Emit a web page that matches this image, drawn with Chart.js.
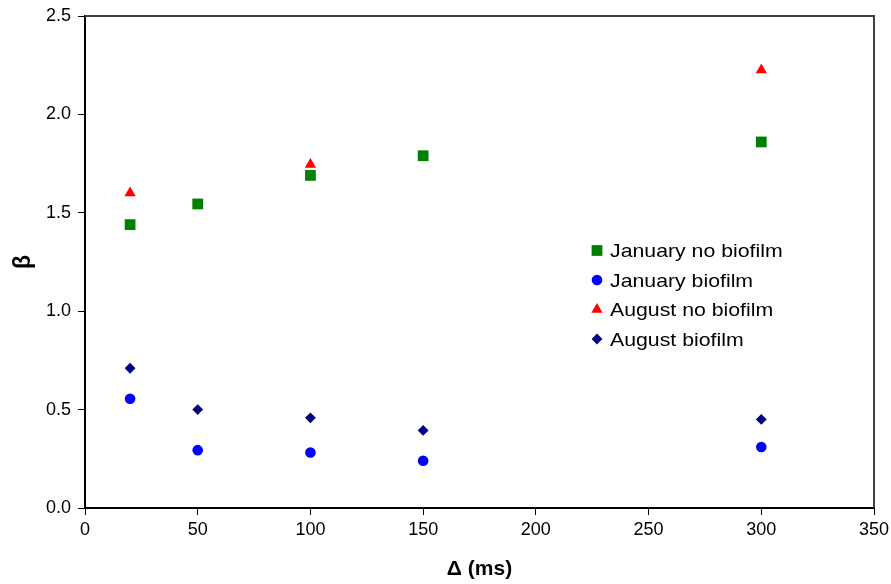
<!DOCTYPE html>
<html>
<head>
<meta charset="utf-8">
<script src="https://cdn.jsdelivr.net/npm/chart.js@4/dist/chart.umd.min.js"></script>
<style>
  html, body { margin: 0; padding: 0; background: #fff; }
  #wrap { width: 891px; height: 584px; position: relative; }
</style>
</head>
<body>
<div id="wrap"><canvas id="c" width="891" height="584"></canvas></div>
<script>
// ---- data ----
const seriesNames = ["January no biofilm", "January biofilm", "August no biofilm", "August biofilm"];
const janNoX = [20, 50, 100, 150, 300];
const janNoY = [1.44, 1.545, 1.69, 1.79, 1.86];
const janBioX = [20, 50, 100, 150, 300];
const janBioY = [0.555, 0.294, 0.282, 0.24, 0.31];
const augNoX = [20, 100, 300];
const augNoY = [1.6, 1.745, 2.226];
const augBioX = [20, 50, 100, 150, 300];
const augBioY = [0.71, 0.50, 0.458, 0.394, 0.45];
const xTicks = [0, 50, 100, 150, 200, 250, 300, 350];
const yTicks = [0.0, 0.5, 1.0, 1.5, 2.0, 2.5];
const xTitle = "\u0394 (ms)";
const yTitle = "\u03B2";

function pts(xs, ys) { return xs.map((x, i) => ({ x: x, y: ys[i] })); }

const styles = [
  { color: "#008000", shape: "rect", r: 7.6 },
  { color: "#0000FF", shape: "circle", r: 5.3 },
  { color: "#FF0000", shape: "triangle", r: 6.5 },
  { color: "#000080", shape: "rectRot", r: 5.4 }
];
const dataSets = [pts(janNoX, janNoY), pts(janBioX, janBioY), pts(augNoX, augNoY), pts(augBioX, augBioY)];

const FONT = "'Liberation Sans', Arial, sans-serif";

function drawShape(ctx, shape, x, y, r) {
  ctx.beginPath();
  if (shape === "rect") {
    const s = Math.SQRT1_2 * r;
    ctx.rect(x - s, y - s, 2 * s, 2 * s);
  } else if (shape === "circle") {
    ctx.arc(x, y, r, 0, Math.PI * 2);
  } else if (shape === "triangle") {
    ctx.moveTo(x, y - r);
    ctx.lineTo(x + Math.sin(2 * Math.PI / 3) * r, y + r / 2);
    ctx.lineTo(x - Math.sin(2 * Math.PI / 3) * r, y + r / 2);
    ctx.closePath();
  } else if (shape === "rectRot") {
    ctx.moveTo(x - r, y);
    ctx.lineTo(x, y - r);
    ctx.lineTo(x + r, y);
    ctx.lineTo(x, y + r);
    ctx.closePath();
  }
  ctx.fill();
}

const framePlugin = {
  id: "frame",
  beforeDatasetsDraw(chart) {
    const { ctx, chartArea: a } = chart;
    ctx.save();
    ctx.strokeStyle = "#404040";
    ctx.lineWidth = 2;
    ctx.beginPath();
    ctx.moveTo(a.left, a.top);
    ctx.lineTo(a.right, a.top);
    ctx.lineTo(a.right, a.bottom);
    ctx.stroke();
    ctx.restore();
  }
};

const legendPlugin = {
  id: "customLegend",
  afterDraw(chart) {
    const ctx = chart.ctx;
    const ys = [250.5, 280, 309.5, 339];
    const fs = 18.5;
    ctx.save();
    seriesNames.forEach((name, i) => {
      const st = styles[i];
      ctx.fillStyle = st.color;
      drawShape(ctx, st.shape, 597, ys[i], st.r);
      ctx.fillStyle = "#000";
      ctx.font = fs + "px " + FONT;
      ctx.textBaseline = "alphabetic";
      ctx.textAlign = "left";
      ctx.save();
      ctx.translate(610, ys[i] + 0.358 * fs);
      ctx.scale(1.15, 1);
      ctx.fillText(name, 0, 0);
      ctx.restore();
    });
    ctx.restore();
  }
};

new Chart(document.getElementById("c"), {
  type: "scatter",
  data: {
    datasets: dataSets.map((d, i) => ({
      label: seriesNames[i],
      data: d,
      showLine: false,
      pointStyle: styles[i].shape,
      pointRadius: styles[i].r,
      pointHoverRadius: styles[i].r,
      pointBackgroundColor: styles[i].color,
      pointBorderColor: styles[i].color,
      pointBorderWidth: 0,
      order: i === 2 ? 0 : 1
    }))
  },
  options: {
    responsive: false,
    animation: false,
    devicePixelRatio: 1,
    layout: { padding: { left: 0, top: 16, right: 17, bottom: 0 } },
    plugins: { legend: { display: false }, tooltip: { enabled: false } },
    scales: {
      x: {
        type: "linear",
        min: xTicks[0], max: xTicks[xTicks.length - 1],
        afterBuildTicks(s) { s.ticks = xTicks.map(v => ({ value: v })); },
        afterFit(s) { s.height = 76; s.paddingRight = 0; s.paddingLeft = 0; },
        ticks: { color: "#000", font: { family: FONT, size: 18 }, padding: 4, maxRotation: 0, callback: v => String(v) },
        grid: { display: true, drawOnChartArea: false, drawTicks: true, tickLength: 7, color: "#000", lineWidth: 1 },
        border: { display: true, color: "#000", width: 2 },
        title: { display: true, text: xTitle, color: "#000", font: { family: FONT, size: 21, weight: "bold" }, padding: { top: 0, bottom: 2 } }
      },
      y: {
        type: "linear",
        min: yTicks[0], max: yTicks[yTicks.length - 1],
        afterBuildTicks(s) { s.ticks = yTicks.map(v => ({ value: v })); },
        afterFit(s) { s.width = 85; s.paddingTop = 0; s.paddingBottom = 0; },
        ticks: { color: "#000", font: { family: FONT, size: 18 }, padding: 7, callback: v => Number(v).toFixed(1) },
        grid: { display: true, drawOnChartArea: false, drawTicks: true, tickLength: 7, color: "#000", lineWidth: 1 },
        border: { display: true, color: "#000", width: 2 },
        title: { display: true, text: yTitle, color: "#000", font: { family: FONT, size: 23, weight: "bold" }, padding: { top: 10, bottom: 0 } }
      }
    }
  },
  plugins: [framePlugin, legendPlugin]
});
</script>
</body>
</html>
